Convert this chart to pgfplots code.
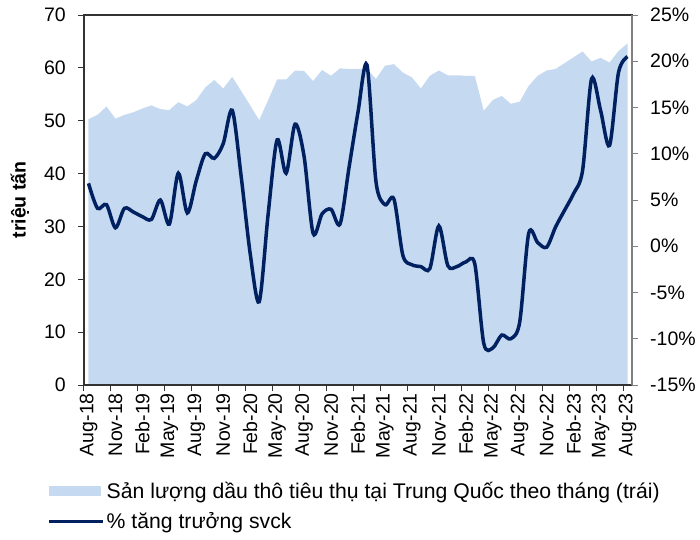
\documentclass[border=0pt]{standalone}
\usepackage{fontspec}
\setmainfont{Liberation Sans}
\usepackage{pgfplots}
\usepackage{pgfplotstable}
\pgfplotsset{compat=1.18}

\definecolor{areablue}{RGB}{197,217,241}
\definecolor{navy}{RGB}{0,32,96}

% i = months since Aug-18; vol = million tonnes (left), yoy = % (right)
\pgfplotstableread{
i vol yoy
0 50.3 6.8
1 51.1 4.1
2 52.7 4.5
3 50.4 2.0
4 51.1 4.1
5 51.6 3.7
6 52.3 3.2
7 52.9 2.9
8 52.2 5.0
9 52.0 2.4
10 53.5 7.9
11 52.7 3.6
12 53.9 7.1
13 56.3 10.0
14 57.7 9.5
15 56.1 11.1
16 58.3 14.7
17 55.6 7.5
18 52.9 -0.8
19 50.1 -6.0
20 53.9 3.5
21 57.8 11.5
22 57.8 7.9
23 59.5 13.2
24 59.4 9.7
25 57.5 1.4
26 59.6 3.5
27 58.5 4.0
28 59.9 2.4
29 59.8 8.5
30 59.8 14.5
31 59.8 19.6
32 57.9 7.0
33 60.4 4.5
34 60.7 5.1
35 59.1 -1.0
36 58.2 -2.0
37 56.1 -2.2
38 58.5 -2.4
39 59.5 2.2
40 58.6 -2.1
41 58.6 -2.2
42 58.5 -1.7
43 58.5 -1.9
44 51.9 -10.5
45 53.9 -11.0
46 54.7 -9.6
47 53.2 -10.0
48 53.6 -8.2
49 56.6 1.4
50 58.5 0.4
51 59.5 -0.1
52 59.8 2.1
53 60.9 3.9
54 62.0 5.7
55 63.1 8.2
56 61.2 18.1
57 61.9 14.7
58 61.0 10.9
59 63.2 18.8
60 64.6 20.5
}\oil

\pgfplotsset{
  every tick label/.append style={font=\fontsize{19.5}{22}\selectfont},
  /pgf/number format/assume math mode=true,
}

\begin{document}
\begin{tikzpicture}
\path[use as bounding box] (-84pt,-154pt) rectangle (616pt,385pt);
\begin{axis}[
    at={(0,0)}, anchor=south west, scale only axis,
    width=548pt, height=370pt,
    xmin=-0.5, xmax=60.5, ymin=0, ymax=70,
    axis on top,
    axis line style={black!80, line width=1.1pt},
    tick pos=left, tick align=outside,
    major tick length=6pt, minor tick length=6pt,
    tick style={black!80, line width=1pt},
    ytick={0,10,...,70},
    yticklabel style={inner xsep=12pt},
    xtick={0,3,...,60},
    xticklabels={Aug-18,Nov-18,Feb-19,May-19,Aug-19,Nov-19,Feb-20,May-20,Aug-20,Nov-20,Feb-21,May-21,Aug-21,Nov-21,Feb-22,May-22,Aug-22,Nov-22,Feb-23,May-23,Aug-23},
    major x tick style=transparent,
    minor xtick={-0.5,2.5,...,59.5},
    xticklabel style={rotate=90, anchor=east, inner xsep=2pt},
    ylabel={triệu tấn},
    every axis y label/.style={at={(axis description cs:-0.117,0.5)}, rotate=90, anchor=center,
        font=\bfseries\fontsize{19.5}{22}\selectfont},
]
\addplot[fill=areablue, draw=none] table[x=i, y=vol]{\oil} \closedcycle;
\end{axis}
\begin{axis}[
    at={(0,0)}, anchor=south west, scale only axis,
    width=548pt, height=370pt,
    xmin=-0.5, xmax=60.5, ymin=-15, ymax=25,
    axis x line=none, axis y line*=right,
    axis line style={-, black!50, line width=1.1pt},
    tick align=outside, major tick length=6pt,
    tick style={black!50, line width=1pt},
    ytick={-15,-10,...,25},
    yticklabel={\pgfmathprintnumber{\tick}\%},
    yticklabel style={inner xsep=12pt},
    legend style={at={(-0.0675,-0.256)}, anchor=north west, draw=none, fill=none,
        inner sep=0pt, row sep=9pt, font=\fontsize{21.2}{24}\selectfont},
    legend cell align=left,
]
\addlegendimage{legend image code/.code={\fill[areablue] (0pt,-4.5pt) rectangle (51pt,4.5pt);}}
\addlegendentry{Sản lượng dầu thô tiêu thụ tại Trung Quốc theo tháng (trái)}
\addplot[navy, line width=3.5pt, smooth, legend image code/.code={\draw[navy, line width=3.5pt] (0pt,0pt) -- (54pt,0pt);}]
    table[x=i, y=yoy]{\oil};
\addlegendentry{\% tăng trưởng svck}
\end{axis}
\end{tikzpicture}
\end{document}
